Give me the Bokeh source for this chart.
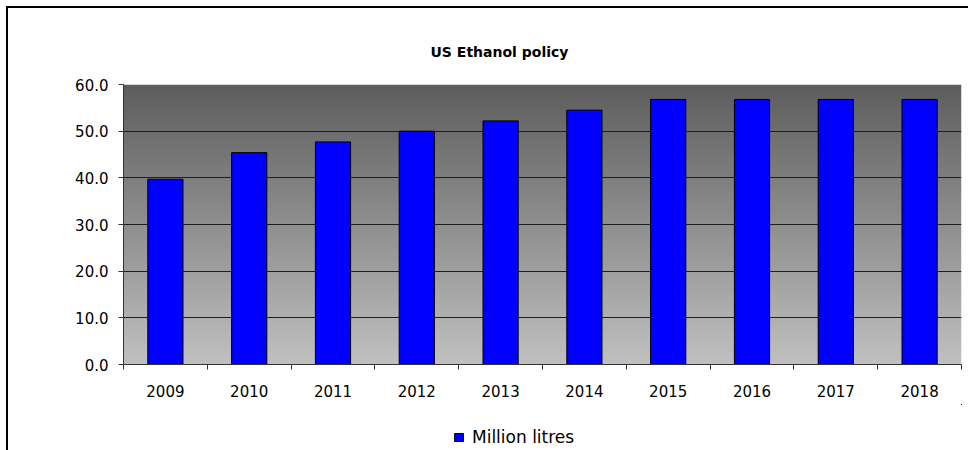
import numpy as np
from bokeh.plotting import figure
from bokeh.layouts import column
from bokeh.models import (Range1d, FixedTicker, Legend, LegendItem,
                          NumeralTickFormatter)
from bokeh.embed import file_html
from bokeh.resources import INLINE

# ---- data ----
title_text = "US Ethanol policy"
series_name = "Million litres"
years = ["2009", "2010", "2011", "2012", "2013", "2014", "2015", "2016", "2017", "2018"]
values = [39.7, 45.4, 47.7, 50.0, 52.2, 54.5, 56.8, 56.8, 56.8, 56.8]
y_ticks = [0, 10, 20, 30, 40, 50, 60]

positions = list(range(1, len(years) + 1))
x_lo, x_hi = 0.5, len(years) + 0.5
y_lo, y_hi = y_ticks[0], y_ticks[-1]

FONT = "DejaVu Sans"
BAR_FILL = "#0000FF"

p = figure(width=960, height=396, output_backend="svg", toolbar_location=None,
           x_range=Range1d(x_lo, x_hi), y_range=Range1d(y_lo, y_hi),
           min_border_left=115, min_border_right=7, min_border_top=76,
           min_border_bottom=40)
p.outline_line_color = None
p.background_fill_color = "white"
p.border_fill_color = "white"

# ---- title ----
p.title.text = title_text
p.title.align = "left"
p.title.offset = 307
p.title.standoff = 49
p.title.text_font = FONT
p.title.text_font_style = "bold"
p.title.text_font_size = "14px"
p.title.text_color = "black"

# ---- gradient background of plot area ----
N = 256
grad = np.zeros((N, 1), dtype=np.uint32)
view = grad.view(dtype=np.uint8).reshape((N, 1, 4))
top_c, bot_c = 0x5D, 0xC0
for i in range(N):
    t = i / (N - 1)  # row 0 = bottom
    c = int(round(bot_c + (top_c - bot_c) * t))
    view[i, 0, 0] = c
    view[i, 0, 1] = c
    view[i, 0, 2] = c
    view[i, 0, 3] = 255
img = p.image_rgba(image=[grad], x=x_lo, y=y_lo, dw=x_hi - x_lo, dh=y_hi - y_lo)
img.level = "image"

# ---- bars ----
bars = p.vbar(x=positions, top=values, width=0.42, fill_color=BAR_FILL,
              line_color="black", line_width=1)

# ---- grid ----
p.xgrid.grid_line_color = None
p.ygrid.ticker = FixedTicker(ticks=y_ticks)
p.ygrid.grid_line_color = "#1e1e1e"
p.ygrid.grid_line_width = 1

# ---- y axis ----
ya = p.yaxis[0]
ya.ticker = FixedTicker(ticks=y_ticks)
ya.formatter = NumeralTickFormatter(format="0.0")
ya.major_tick_out = 5
ya.major_tick_in = 0
ya.minor_tick_line_color = None
ya.axis_line_color = "#333333"
ya.major_tick_line_color = "#333333"
ya.major_label_text_font = FONT
ya.major_label_text_font_size = "15px"
ya.major_label_text_color = "black"
ya.major_label_standoff = 10

# ---- x axis: labels at category centres, tick marks between categories ----
xa = p.xaxis[0]
xa.ticker = FixedTicker(ticks=positions,
                        minor_ticks=[x - 0.5 for x in positions] + [x_hi])
xa.major_label_overrides = {pos: y for pos, y in zip(positions, years)}
xa.major_tick_line_color = None
xa.major_tick_out = 0
xa.major_tick_in = 0
xa.minor_tick_out = 5
xa.minor_tick_in = 0
xa.minor_tick_line_color = "#333333"
xa.axis_line_color = "#333333"
xa.major_label_text_font = FONT
xa.major_label_text_font_size = "15px"
xa.major_label_text_color = "black"
xa.major_label_standoff = 15

# ---- legend strip (separate small figure) ----
p2 = figure(width=960, height=46, output_backend="svg", toolbar_location=None,
            x_range=Range1d(-2, -1), y_range=Range1d(-2, -1),
            min_border_left=0, min_border_right=0, min_border_top=0,
            min_border_bottom=0)
p2.axis.visible = False
p2.grid.visible = False
p2.outline_line_color = None
p2.background_fill_color = "white"
p2.border_fill_color = "white"
legend_bar = p2.vbar(x="x", top="top", source=bars.data_source, width=0.42,
                     fill_color=BAR_FILL, line_color="black", line_width=1)
legend = Legend(items=[LegendItem(label=series_name, renderers=[legend_bar])],
                location=(330, 3), orientation="horizontal",
                glyph_width=11, glyph_height=10, label_standoff=8,
                label_text_font=FONT, label_text_font_size="17px",
                label_text_color="black", background_fill_alpha=0,
                border_line_color=None, padding=0, margin=0, spacing=0)
p2.add_layout(legend, "center")

layout = column(p, p2, spacing=0)
layout.styles = {"border-left": "2px solid black", "border-top": "2px solid black",
                 "margin-left": "6px", "margin-top": "6px"}

open("out.html", "w").write(file_html(layout, INLINE))
